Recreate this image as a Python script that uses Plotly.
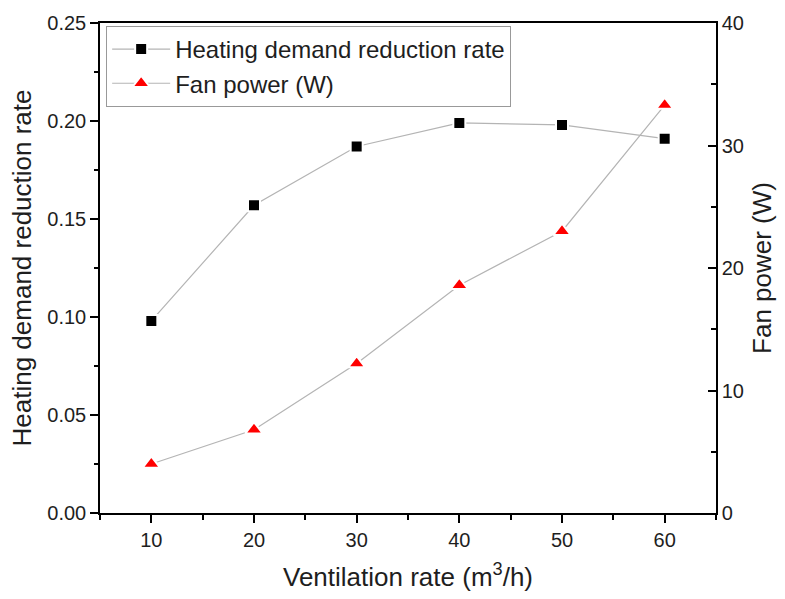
import plotly.graph_objects as go

# Ventilation rate (m3/h)
ventilation = [10, 20, 30, 40, 50, 60]
# Heating demand reduction rate (left axis)
heating_reduction = [0.098, 0.157, 0.187, 0.199, 0.198, 0.191]
# Fan power in W (right axis)
fan_power = [4.0, 6.8, 12.2, 18.6, 23.0, 33.3]

FONT = "Liberation Sans, Arial, sans-serif"
LINE_GRAY = "#b4b4b4"
TEXT = "#1e1e1e"

fig = go.Figure()

fig.add_trace(go.Scatter(
    x=ventilation, y=heating_reduction,
    name="Heating demand reduction rate",
    mode="lines+markers",
    line=dict(color=LINE_GRAY, width=1.2),
    marker=dict(symbol="square", size=12, color="black",
                line=dict(color="white", width=2)),
    yaxis="y",
))

fig.add_trace(go.Scatter(
    x=ventilation, y=fan_power,
    name="Fan power (W)",
    mode="lines+markers",
    line=dict(color=LINE_GRAY, width=1.2),
    marker=dict(symbol="triangle-up", size=15, color="red",
                line=dict(color="white", width=2)),
    yaxis="y2",
))

axis_common = dict(
    showline=True, linecolor="black", linewidth=1.5,
    showgrid=False, zeroline=False,
    tickcolor="black", tickwidth=1.5,
    tickfont=dict(family=FONT, size=20, color=TEXT),
)

title_font = dict(family=FONT, size=26, color=TEXT)

fig.update_layout(
    width=785, height=599,
    margin=dict(l=100, r=69, t=20, b=81),
    paper_bgcolor="white", plot_bgcolor="white",
    font=dict(family=FONT, color=TEXT),
    showlegend=True,
    legend=dict(
        x=0.01, y=0.994, xanchor="left", yanchor="top",
        bordercolor="#999", borderwidth=1, bgcolor="white",
        font=dict(family=FONT, size=24, color=TEXT),
        tracegroupgap=0, itemwidth=58,
    ),
    xaxis=dict(
        **axis_common,
        range=[5, 65], tickvals=[10, 20, 30, 40, 50, 60],
        ticks="outside", ticklen=8, mirror=True,
        minor=dict(tickvals=[5, 15, 25, 35, 45, 55, 65], ticks="outside",
                   ticklen=5, tickcolor="black", tickwidth=1.5),
        title=dict(text="Ventilation rate (m<sup>3</sup>/h)",
                   font=title_font, standoff=18),
    ),
    yaxis=dict(
        **axis_common,
        range=[0, 0.25], tickvals=[0, 0.05, 0.10, 0.15, 0.20, 0.25],
        tickformat=".2f",
        ticks="outside", ticklen=8,
        minor=dict(tickvals=[0.025, 0.075, 0.125, 0.175, 0.225], ticks="outside",
                   ticklen=4, tickcolor="black", tickwidth=1.5),
        title=dict(text="Heating demand reduction rate",
                   font=title_font, standoff=8),
    ),
    yaxis2=dict(
        **axis_common,
        overlaying="y", side="right",
        range=[0, 40], tickvals=[0, 10, 20, 30, 40],
        ticks="inside", ticklen=8,
        minor=dict(tickvals=[5, 15, 25, 35], ticks="inside",
                   ticklen=5, tickcolor="black", tickwidth=1.5),
        title=dict(text="Fan power (W)",
                   font=title_font, standoff=10),
    ),
)

fig.write_html("out.html")
